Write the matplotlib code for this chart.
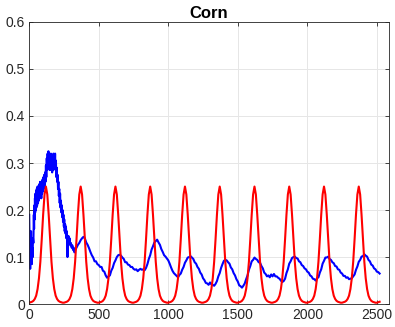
import numpy as np
import matplotlib.pyplot as plt

plt.rcParams['font.family'] = ['Liberation Sans', 'DejaVu Sans']

# red curve, sampled every 10 steps from 0 to 2520
red_x = np.arange(0, 2521, 10)
red_y = [0.003, 0.004, 0.005, 0.007, 0.011, 0.018, 0.032, 0.055, 0.090, 0.138, 0.190, 0.233,
         0.250, 0.233, 0.190, 0.138, 0.090, 0.055, 0.032, 0.018, 0.011, 0.007, 0.005, 0.004, 0.003,
         0.003, 0.004, 0.005, 0.007, 0.011, 0.018, 0.032, 0.055, 0.090, 0.138, 0.190, 0.233,
         0.250, 0.233, 0.190, 0.138, 0.090, 0.055, 0.032, 0.018, 0.011, 0.007, 0.005, 0.004, 0.003,
         0.003, 0.004, 0.005, 0.007, 0.011, 0.018, 0.032, 0.055, 0.090, 0.138, 0.190, 0.233,
         0.250, 0.233, 0.190, 0.138, 0.090, 0.055, 0.032, 0.018, 0.011, 0.007, 0.005, 0.004, 0.003,
         0.003, 0.004, 0.005, 0.007, 0.011, 0.018, 0.032, 0.055, 0.090, 0.138, 0.190, 0.233,
         0.250, 0.233, 0.190, 0.138, 0.090, 0.055, 0.032, 0.018, 0.011, 0.007, 0.005, 0.004, 0.003,
         0.003, 0.004, 0.005, 0.007, 0.011, 0.018, 0.032, 0.055, 0.090, 0.138, 0.190, 0.233,
         0.250, 0.233, 0.190, 0.138, 0.090, 0.055, 0.032, 0.018, 0.011, 0.007, 0.005, 0.004, 0.003,
         0.003, 0.004, 0.005, 0.007, 0.011, 0.018, 0.032, 0.055, 0.090, 0.138, 0.190, 0.233,
         0.250, 0.233, 0.190, 0.138, 0.090, 0.055, 0.032, 0.018, 0.011, 0.007, 0.005, 0.004, 0.003,
         0.003, 0.004, 0.005, 0.007, 0.011, 0.018, 0.032, 0.055, 0.090, 0.138, 0.190, 0.233,
         0.250, 0.233, 0.190, 0.138, 0.090, 0.055, 0.032, 0.018, 0.011, 0.007, 0.005, 0.004, 0.003,
         0.003, 0.004, 0.005, 0.007, 0.011, 0.018, 0.032, 0.055, 0.090, 0.138, 0.190, 0.233,
         0.250, 0.233, 0.190, 0.138, 0.090, 0.055, 0.032, 0.018, 0.011, 0.007, 0.005, 0.004, 0.003,
         0.003, 0.004, 0.005, 0.007, 0.011, 0.018, 0.032, 0.055, 0.090, 0.138, 0.190, 0.233,
         0.250, 0.233, 0.190, 0.138, 0.090, 0.055, 0.032, 0.018, 0.011, 0.007, 0.005, 0.004, 0.003,
         0.003, 0.004, 0.005, 0.007, 0.011, 0.018, 0.032, 0.055, 0.090, 0.138, 0.190, 0.233,
         0.250, 0.233, 0.190, 0.138, 0.090, 0.055, 0.032, 0.018, 0.011, 0.007, 0.005, 0.004, 0.003,
         0.003, 0.004, 0.005]

# blue series, noisy start (0-330)
blue_x_start = [0, 3, 5, 7, 9, 11, 13, 15, 17, 19, 21, 24, 27, 30,
                33, 35, 37, 39, 41, 43, 45, 47, 49, 51, 54, 57, 60, 63, 66, 69, 72, 75, 78, 81,
                84, 87, 90, 93, 96, 99, 102, 105, 108, 111, 114, 117, 120, 123, 126, 129, 132, 135, 138, 141,
                144, 147, 150, 153, 156, 159, 162, 165, 168, 171, 174, 177, 180, 183, 186, 189, 192, 195, 198, 201,
                204, 207, 210, 213, 216, 219, 222, 225, 228, 231, 234, 237, 240, 243, 246, 249, 252, 255, 258, 261,
                264, 267, 270, 273, 275, 278, 282, 286, 290, 295, 300, 305, 310, 315, 320, 325, 330]
blue_y_start = [0.19, 0.12, 0.15, 0.075, 0.14, 0.09, 0.155, 0.10, 0.13, 0.085, 0.12, 0.10, 0.14, 0.13,
                0.19, 0.16, 0.21, 0.18, 0.225, 0.195, 0.235, 0.2, 0.24, 0.205, 0.245, 0.21, 0.25, 0.215,
                0.25, 0.22, 0.255, 0.225, 0.26, 0.23,
                0.255, 0.225, 0.26, 0.235, 0.265, 0.24, 0.27, 0.245, 0.275, 0.25, 0.28, 0.26, 0.295, 0.27,
                0.31, 0.285, 0.32, 0.295, 0.325, 0.30,
                0.32, 0.285, 0.31, 0.29, 0.32, 0.285, 0.31, 0.28, 0.305, 0.285, 0.32, 0.29, 0.315, 0.29,
                0.32, 0.285, 0.305, 0.27, 0.29, 0.26,
                0.275, 0.245, 0.26, 0.23, 0.245, 0.215, 0.235, 0.205, 0.22, 0.195, 0.21, 0.185, 0.2, 0.175,
                0.19, 0.165, 0.18, 0.155, 0.17, 0.15,
                0.165, 0.14, 0.155, 0.13, 0.10, 0.135, 0.145, 0.13, 0.14, 0.125, 0.13, 0.12, 0.125, 0.115,
                0.12, 0.11, 0.115]

# blue series, 340-2520 every 10
blue_x_rest = [340, 350, 360, 370, 380, 390, 400, 410, 420, 430,
               440, 450, 460, 470, 480, 490, 500, 510, 520, 530,
               540, 550, 560, 570, 580, 590, 600, 610, 620, 630,
               640, 650, 660, 670, 680, 690, 700, 710, 720, 730,
               740, 750, 760, 770, 780, 790, 800, 810, 820, 830,
               840, 850, 860, 870, 880, 890, 900, 910, 920, 930,
               940, 950, 960, 970, 980, 990, 1000, 1010, 1020, 1030,
               1040, 1050, 1060, 1070, 1080, 1090, 1100, 1110, 1120, 1130,
               1140, 1150, 1160, 1170, 1180, 1190, 1200, 1210, 1220, 1230,
               1240, 1250, 1260, 1270, 1280, 1290, 1300, 1310, 1320, 1330,
               1340, 1350, 1360, 1370, 1380, 1390, 1400, 1410, 1420, 1430,
               1440, 1450, 1460, 1470, 1480, 1490, 1500, 1510, 1520, 1530,
               1540, 1550, 1560, 1570, 1580, 1590, 1600, 1610, 1620, 1630,
               1640, 1650, 1660, 1670, 1680, 1690, 1700, 1710, 1720, 1730,
               1740, 1750, 1760, 1770, 1780, 1790, 1800, 1810, 1820, 1830,
               1840, 1850, 1860, 1870, 1880, 1890, 1900, 1910, 1920, 1930,
               1940, 1950, 1960, 1970, 1980, 1990, 2000, 2010, 2020, 2030,
               2040, 2050, 2060, 2070, 2080, 2090, 2100, 2110, 2120, 2130,
               2140, 2150, 2160, 2170, 2180, 2190, 2200, 2210, 2220, 2230,
               2240, 2250, 2260, 2270, 2280, 2290, 2300, 2310, 2320, 2330,
               2340, 2350, 2360, 2370, 2380, 2390, 2400, 2410, 2420, 2430,
               2440, 2450, 2460, 2470, 2480, 2490, 2500, 2510, 2520]
blue_y_rest = [0.12, 0.126, 0.13, 0.136, 0.14, 0.143, 0.14, 0.131, 0.126, 0.119,
               0.111, 0.104, 0.099, 0.091, 0.091, 0.085, 0.083, 0.079, 0.079, 0.071,
               0.069, 0.061, 0.056, 0.059, 0.061, 0.071, 0.077, 0.087, 0.093, 0.1,
               0.104, 0.105, 0.103, 0.099, 0.096, 0.089, 0.089, 0.084, 0.083, 0.079,
               0.079, 0.075, 0.073, 0.074, 0.07, 0.073, 0.075, 0.073, 0.074, 0.072,
               0.077, 0.085, 0.096, 0.104, 0.116, 0.123, 0.131, 0.134, 0.137, 0.131,
               0.126, 0.117, 0.111, 0.104, 0.101, 0.097, 0.093, 0.086, 0.078, 0.071,
               0.066, 0.063, 0.06, 0.057, 0.062, 0.065, 0.073, 0.079, 0.088, 0.093,
               0.099, 0.1, 0.102, 0.099, 0.096, 0.089, 0.086, 0.079, 0.075, 0.067,
               0.063, 0.055, 0.051, 0.045, 0.044, 0.041, 0.046, 0.042, 0.041, 0.039,
               0.043, 0.049, 0.059, 0.066, 0.077, 0.085, 0.092, 0.094, 0.093, 0.089,
               0.086, 0.078, 0.074, 0.066, 0.061, 0.053, 0.048, 0.04, 0.038, 0.035,
               0.039, 0.044, 0.053, 0.061, 0.073, 0.081, 0.091, 0.094, 0.099, 0.096,
               0.094, 0.089, 0.088, 0.081, 0.076, 0.067, 0.064, 0.059, 0.061, 0.057,
               0.063, 0.059, 0.064, 0.059, 0.059, 0.056, 0.054, 0.05, 0.047, 0.049,
               0.054, 0.066, 0.074, 0.086, 0.091, 0.098, 0.1, 0.101, 0.098, 0.097,
               0.091, 0.089, 0.083, 0.081, 0.076, 0.074, 0.069, 0.067, 0.061, 0.059,
               0.054, 0.053, 0.05, 0.055, 0.057, 0.067, 0.074, 0.086, 0.092, 0.099,
               0.099, 0.101, 0.096, 0.094, 0.089, 0.087, 0.081, 0.08, 0.074, 0.073,
               0.067, 0.065, 0.06, 0.06, 0.056, 0.057, 0.053, 0.054, 0.055, 0.059,
               0.063, 0.073, 0.08, 0.09, 0.094, 0.101, 0.102, 0.106, 0.103, 0.101,
               0.094, 0.091, 0.084, 0.082, 0.076, 0.074, 0.069, 0.068, 0.065]

blue_x = blue_x_start + blue_x_rest
blue_y = blue_y_start + blue_y_rest

fig = plt.figure(figsize=(3.95, 3.27), dpi=100)
ax = fig.add_axes([0.074, 0.070, 0.911, 0.863])

ax.plot(blue_x, blue_y, color='#0000ff', lw=1.5)
ax.plot(red_x, red_y, color='#ff0000', lw=1.5)

ax.set_xlim(0, 2588)
ax.set_ylim(0, 0.6)
ax.set_xticks([0, 500, 1000, 1500, 2000, 2500])
ax.set_yticks([0, 0.1, 0.2, 0.3, 0.4, 0.5, 0.6])
ax.set_yticklabels(['0', '0.1', '0.2', '0.3', '0.4', '0.5', '0.6'])
ax.grid(True, color='#e6e6e6', lw=0.7)
ax.set_axisbelow(True)
ax.tick_params(direction='in', length=3, width=0.6, labelsize=10, colors='#262626',
               top=True, right=True, pad=3)
for s in ax.spines.values():
    s.set_color('#262626')
    s.set_linewidth(0.6)

ax.set_title('Corn', fontsize=12, fontweight='bold', pad=3)

fig.savefig('out.png', dpi=100)
